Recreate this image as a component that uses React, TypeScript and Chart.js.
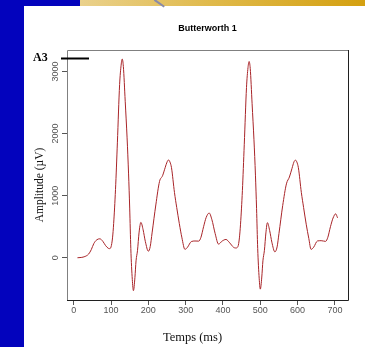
import React, { useEffect, useRef } from 'react';
import { Chart, registerables } from 'chart.js';

Chart.register(...registerables);

// ---- data ----
const timeMs = [
  10, 20, 30, 40, 47, 54, 62, 70, 78, 85, 92, 96, 100, 104, 107, 112, 117, 123, 127, 130,
  133, 138, 143, 147, 150, 153, 157, 160, 164, 167, 171, 175, 180, 186, 192, 200, 205, 210, 220, 230,
  238, 245, 250, 254, 258, 262, 270, 276, 283, 290, 298, 305, 315, 325, 335, 341, 348, 355, 363, 370,
  379, 388, 398, 408, 418, 428, 434, 440, 444, 447, 452, 457, 463, 467, 470, 473, 478, 483, 487, 490,
  493, 497, 500, 504, 507, 511, 515, 519, 525, 531, 539, 545, 550, 560, 570, 578, 585, 590, 594, 598,
  602, 610, 616, 623, 630, 636, 643, 653, 663, 675, 681, 688, 695, 702, 707,
];
const amplitudeUv = [
  0, 5, 20, 60, 130, 230, 290, 305, 265, 200, 155, 147, 175, 320, 550, 1100, 1850, 2790, 3100, 3200,
  3080, 2520, 1930, 1350, 800, 150, -350, -530, -320, -50, 120, 400, 570, 450, 260, 105, 180, 400, 850, 1230,
  1320, 1450, 1540, 1575, 1540, 1450, 1050, 810, 550, 320, 135, 170, 260, 270, 268, 330, 500, 650, 720, 620,
  390, 220, 270, 295, 240, 170, 157, 180, 320, 540, 1080, 1820, 2740, 3060, 3160, 3050, 2480, 1900, 1330, 790,
  150, -330, -505, -310, -50, 120, 400, 565, 440, 250, 95, 175, 390, 840, 1190, 1300, 1440, 1540, 1572, 1540,
  1450, 1050, 810, 540, 310, 135, 170, 270, 275, 264, 330, 500, 640, 707, 643,
];
const xTickValues = [0, 100, 200, 300, 400, 500, 600, 700];
const yTickValues = [0, 1000, 2000, 3000];
const chartTitle = 'Butterworth 1';
const xAxisTitle = 'Temps (ms)';
const yAxisTitle = 'Amplitude (µV)';
const panelLabel = 'A3';

const SANS = '"Liberation Sans", Arial, sans-serif';
const SERIF = '"Liberation Serif", "Times New Roman", serif';

export default function App() {
  const canvasRef = useRef<HTMLCanvasElement>(null);

  useEffect(() => {
    if (!canvasRef.current) return;

    const decor = {
      id: 'decor',
      afterDraw(chart: any) {
        const { ctx, chartArea: ca } = chart;
        ctx.save();
        // plot box
        ctx.lineWidth = 1;
        ctx.strokeStyle = '#808080';
        ctx.beginPath();
        ctx.moveTo(ca.left + 0.5, ca.bottom);
        ctx.lineTo(ca.left + 0.5, ca.top + 0.5);
        ctx.lineTo(ca.right, ca.top + 0.5);
        ctx.stroke();
        ctx.strokeStyle = '#202020';
        ctx.beginPath();
        ctx.moveTo(ca.left, ca.bottom + 0.5);
        ctx.lineTo(ca.right + 0.5, ca.bottom + 0.5);
        ctx.lineTo(ca.right + 0.5, ca.top);
        ctx.stroke();

        // panel label and scale bar
        ctx.fillStyle = '#000';
        ctx.font = `bold 12px ${SERIF}`;
        ctx.textAlign = 'left';
        ctx.textBaseline = 'alphabetic';
        ctx.fillText(panelLabel, ca.left - 34, ca.top + 11);
        ctx.strokeStyle = '#000';
        ctx.lineWidth = 2;
        ctx.beginPath();
        ctx.moveTo(ca.left - 6, ca.top + 8.5);
        ctx.lineTo(ca.left + 22, ca.top + 8.5);
        ctx.stroke();

        // axis titles
        ctx.fillStyle = '#111';
        ctx.font = `12.5px ${SERIF}`;
        ctx.textAlign = 'center';
        ctx.textBaseline = 'middle';
        ctx.fillText(xAxisTitle, (ca.left + ca.right) / 2 - 15, ca.bottom + 38);

        ctx.font = `11.5px ${SERIF}`;
        ctx.translate(ca.left - 27, (ca.top + ca.bottom) / 2 + 10);
        ctx.rotate(-Math.PI / 2);
        ctx.fillText(yAxisTitle, 0, 0);
        ctx.restore();
      },
    };

    const chart = new Chart(canvasRef.current, {
      type: 'line',
      data: {
        datasets: [
          {
            label: 'Butterworth 1',
            data: timeMs.map((t, i) => ({ x: t, y: amplitudeUv[i] })),
            borderColor: '#a82428',
            borderWidth: 1,
            pointRadius: 0,
            cubicInterpolationMode: 'monotone',
            fill: false,
          },
        ],
      },
      options: {
        responsive: false,
        animation: false,
        devicePixelRatio: 1,
        layout: { padding: { left: 0, right: 17, top: 0, bottom: 0 } },
        plugins: {
          legend: { display: false },
          tooltip: { enabled: false },
          title: {
            display: true,
            text: chartTitle,
            fullSize: false,
            color: '#000',
            font: { family: SANS, size: 9, weight: 'bold', lineHeight: 1.2 },
            padding: { top: 23.6, bottom: 15.6 },
          },
        },
        scales: {
          x: {
            type: 'linear',
            min: -18,
            max: 735,
            afterBuildTicks: (scale: any) => {
              scale.ticks = xTickValues.map((v) => ({ value: v }));
            },
            afterFit: (scale: any) => {
              scale.height = 47;
            },
            border: { display: false },
            grid: { drawOnChartArea: false, drawTicks: true, tickLength: 5, color: '#555' },
            ticks: {
              color: '#555',
              font: { family: SANS, size: 9 },
              padding: 0,
              maxRotation: 0,
              autoSkip: false,
              callback: (v: any) => String(v),
            },
          },
          y: {
            type: 'linear',
            min: -680,
            max: 3345,
            afterBuildTicks: (scale: any) => {
              scale.ticks = yTickValues.map((v) => ({ value: v }));
            },
            afterFit: (scale: any) => {
              scale.width = 67;
            },
            border: { display: false },
            grid: { drawOnChartArea: false, drawTicks: true, tickLength: 5, color: '#555' },
            ticks: {
              color: '#555',
              font: { family: SANS, size: 9 },
              padding: -4,
              minRotation: 90,
              maxRotation: 90,
              crossAlign: 'center',
              autoSkip: false,
              callback: (v: any) => String(v),
            },
          },
        },
      } as any,
      plugins: [decor],
    });

    return () => chart.destroy();
  }, []);

  return (
    <div
      style={{
        position: 'fixed',
        left: 0,
        top: 0,
        width: 365,
        height: 347,
        background: '#ffffff',
        overflow: 'hidden',
      }}
    >
      <div style={{ position: 'absolute', left: 0, top: 0, width: 24, height: 347, background: '#0303bd' }} />
      <div style={{ position: 'absolute', left: 0, top: 0, width: 80, height: 6, background: '#0303bd' }} />
      <div
        style={{
          position: 'absolute',
          left: 80,
          top: 0,
          width: 285,
          height: 6,
          background: 'linear-gradient(to right, #ead18c, #e0ba4c 45%, #d4a010)',
        }}
      />
      <div
        style={{
          position: 'absolute',
          left: 155,
          top: -1,
          width: 12,
          height: 1.5,
          background: '#8a8aa8',
          transform: 'rotate(35deg)',
          transformOrigin: 'left top',
        }}
      />
      <canvas ref={canvasRef} width={365} height={347} style={{ position: 'absolute', left: 0, top: 0 }} />
    </div>
  );
}
